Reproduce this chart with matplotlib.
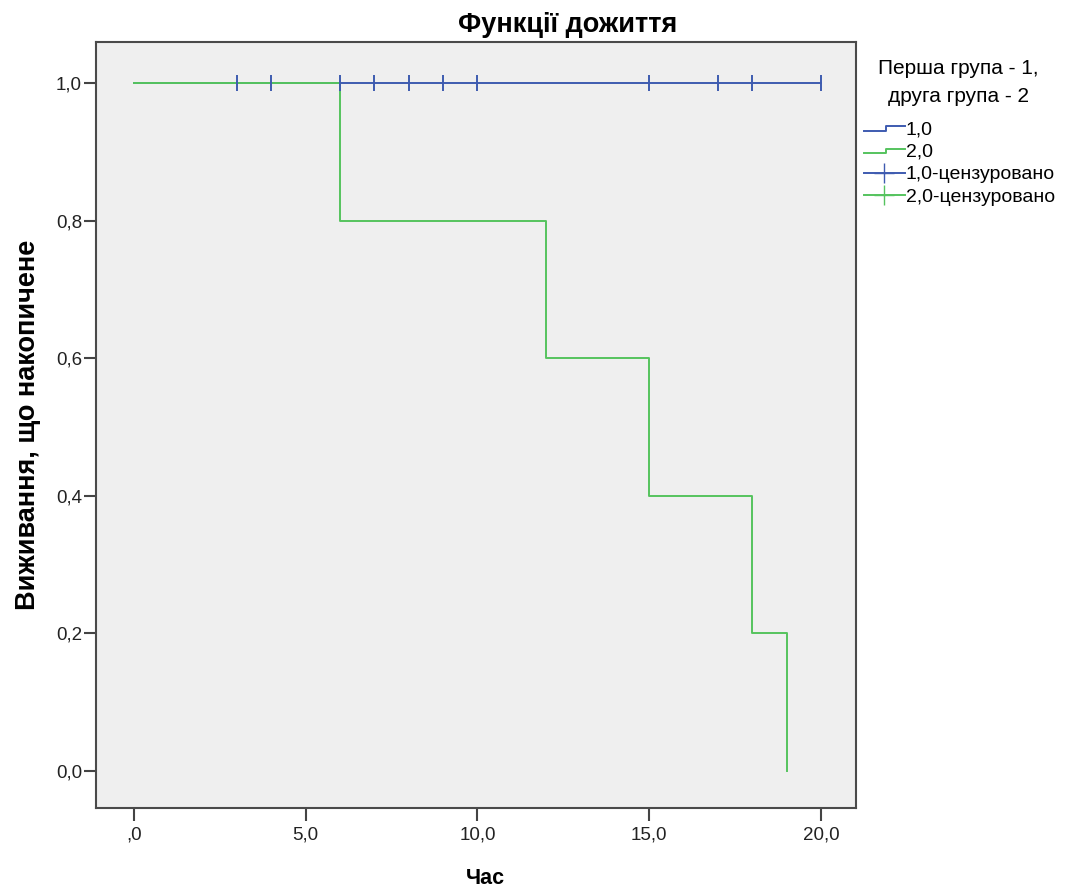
import matplotlib
matplotlib.use("Agg")
import matplotlib.pyplot as plt
from matplotlib.lines import Line2D
from matplotlib.legend_handler import HandlerBase
from matplotlib.ticker import FuncFormatter

plt.rcParams['font.family'] = ['Liberation Sans', 'DejaVu Sans']

# Group 1: no events, all censored
g1_times = [0, 20]
g1_surv = [1.0, 1.0]
g1_censor = [3, 4, 6, 7, 8, 9, 10, 15, 17, 18, 20]

# Group 2: step survival
g2_times = [0, 6, 12, 15, 18, 19]
g2_surv = [1.0, 0.8, 0.6, 0.4, 0.2, 0.0]

x_ticks = [0, 5, 10, 15, 20]
y_ticks = [0, 0.2, 0.4, 0.6, 0.8, 1.0]
legend_title = 'Перша група - 1,\nдруга група - 2'
legend_labels = ['1,0', '2,0', '1,0-цензуровано', '2,0-цензуровано']

blue = '#3e5bb0'
green = '#55c35e'

fig = plt.figure(figsize=(10.71, 8.92), dpi=100)
ax = fig.add_axes([0.0896, 0.0942, 0.7097, 0.8587])
ax.set_facecolor('#efefef')

ax.step(g1_times, g1_surv, where='post', color=blue, lw=1.4, zorder=2)
ax.step(g2_times, g2_surv, where='post', color=green, lw=1.4, zorder=3)
ax.plot(g1_censor, [1.0] * len(g1_censor), linestyle='none', marker='|',
        markersize=12, markeredgewidth=1.4, color=blue, zorder=4)

ax.set_xlim(-1.106, 21.02)
ax.set_ylim(-0.054, 1.0596)
ax.set_xticks(x_ticks)
ax.set_yticks(y_ticks)

ax.xaxis.set_major_formatter(FuncFormatter(lambda v, p: ',0' if abs(v) < 1e-9 else f"{v:.1f}".replace('.', ',')))
ax.yaxis.set_major_formatter(FuncFormatter(lambda v, p: f"{v:.1f}".replace('.', ',')))
ax.tick_params(axis='both', direction='out', length=9, width=1.5, labelsize=13.5,
               color='#444444', labelcolor='#222222')
ax.tick_params(axis='x', pad=4)
ax.tick_params(axis='y', pad=1)
for sp in ax.spines.values():
    sp.set_linewidth(1.5)
    sp.set_color('#4a4a4a')

ax.set_title('Функції дожиття', fontsize=19.5, fontweight='bold', pad=7, x=0.621)
ax.set_xlabel('Час', fontsize=15.5, fontweight='bold')
ax.xaxis.set_label_coords(0.513, -0.079)
ax.set_ylabel('Виживання, що накопичене', fontsize=19.5, fontweight='bold', labelpad=11)

# legend title as separate text
fig.text(958 / 1071, 1 - 82 / 892, legend_title, ha='center', va='center',
         multialignment='center', fontsize=15, linespacing=1.6)


class StepHandler(HandlerBase):
    def create_artists(self, legend, orig_handle, xdescent, ydescent, width, height, fontsize, trans):
        x0 = -xdescent
        y0 = -ydescent + height * 0.25
        y1 = -ydescent + height * 0.6
        xs = [x0, x0 + width * 0.55, x0 + width * 0.55, x0 + width]
        ys = [y0, y0, y1, y1]
        l = Line2D(xs, ys, color=orig_handle.get_color(), lw=1.4, transform=trans)
        return [l]


h1 = Line2D([], [], color=blue)
h2 = Line2D([], [], color=green)
h3 = Line2D([], [], color=blue, marker='+', markersize=14, lw=1.4)
h4 = Line2D([], [], color=green, marker='+', markersize=14, lw=1.4)
leg = ax.legend([h1, h2, h3, h4], legend_labels,
                handler_map={h1: StepHandler(), h2: StepHandler()},
                loc='upper left', bbox_to_anchor=(1.0, 1 - 71 / 766), frameon=False,
                fontsize=14, handlelength=2.1, handletextpad=0.05,
                labelspacing=0.25, borderaxespad=0.2, borderpad=0.2)

fig.savefig('out.png', dpi=100, facecolor='white')
